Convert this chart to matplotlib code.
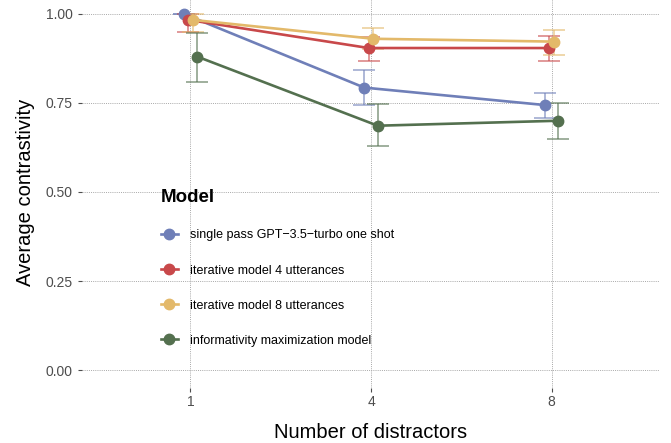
import matplotlib
matplotlib.use("Agg")
import matplotlib.pyplot as plt
import numpy as np

plt.rcParams["font.family"] = ["Liberation Sans", "DejaVu Sans"]

# data
distractors = ["1", "4", "8"]
models = [
    "single pass GPT\u22123.5\u2212turbo one shot",
    "iterative model 4 utterances",
    "iterative model 8 utterances",
    "informativity maximization model",
]
colors = ["#6f7fb8", "#c8484a", "#e3b96a", "#54704f"]

mean_vals = [
    [1.000, 0.793, 0.744],
    [0.983, 0.904, 0.904],
    [0.983, 0.930, 0.922],
    [0.880, 0.686, 0.700],
]
lower_vals = [
    [1.000, 0.744, 0.707],
    [0.950, 0.869, 0.869],
    [0.948, 0.901, 0.885],
    [0.810, 0.630, 0.648],
]
upper_vals = [
    [1.000, 0.843, 0.778],
    [1.000, 0.936, 0.938],
    [1.000, 0.961, 0.954],
    [0.945, 0.747, 0.751],
]

fig = plt.figure(figsize=(6.71, 4.43), dpi=100)
ax = fig.add_axes([82 / 671, 55 / 443, 578 / 671, 392 / 443])

x = np.arange(len(distractors)) + 1
dodge = 0.1
n = len(models)
for i, (name, col) in enumerate(zip(models, colors)):
    off = (i - (n - 1) / 2) * dodge / n
    xs = x + off
    m = np.array(mean_vals[i])
    lo = m - np.array(lower_vals[i])
    hi = np.array(upper_vals[i]) - m
    ax.errorbar(xs, m, yerr=[lo, hi], fmt="none", ecolor=col, alpha=0.65,
                elinewidth=1.2, capsize=8, capthick=1.2, zorder=2)
    ax.plot(xs, m, color=col, lw=1.9, marker="o", ms=7.5, label=name, zorder=3)

ax.set_xlim(0.4, 3.6)
ax.set_ylim(-0.05, 1.05)
ax.set_xticks(x)
ax.set_xticklabels(distractors)
ax.set_yticks([0, 0.25, 0.5, 0.75, 1.0])
ax.set_yticklabels(["0.00", "0.25", "0.50", "0.75", "1.00"])
ax.grid(True, color="#a8a8a8", linestyle=(0, (1, 1.2)), lw=0.7)
ax.set_axisbelow(True)
for s in ax.spines.values():
    s.set_visible(False)
ax.tick_params(colors="#4d4d4d", labelsize=10, length=3, width=0.8)
ax.tick_params(axis="x", pad=2)
ax.set_xlabel("Number of distractors", fontsize=14.5, labelpad=10)
ax.set_ylabel("Average contrastivity", fontsize=14.5, labelpad=8)

leg = fig.legend(loc="upper left", bbox_to_anchor=(150 / 671, 1 - 178 / 443),
                 frameon=False, title="Model", fontsize=9, labelspacing=1.85,
                 handlelength=1.3, handletextpad=1.0)
leg.get_title().set_fontsize(13.5)
leg.get_title().set_fontweight("bold")
leg._legend_box.align = "left"

fig.savefig("out.png", dpi=100)
